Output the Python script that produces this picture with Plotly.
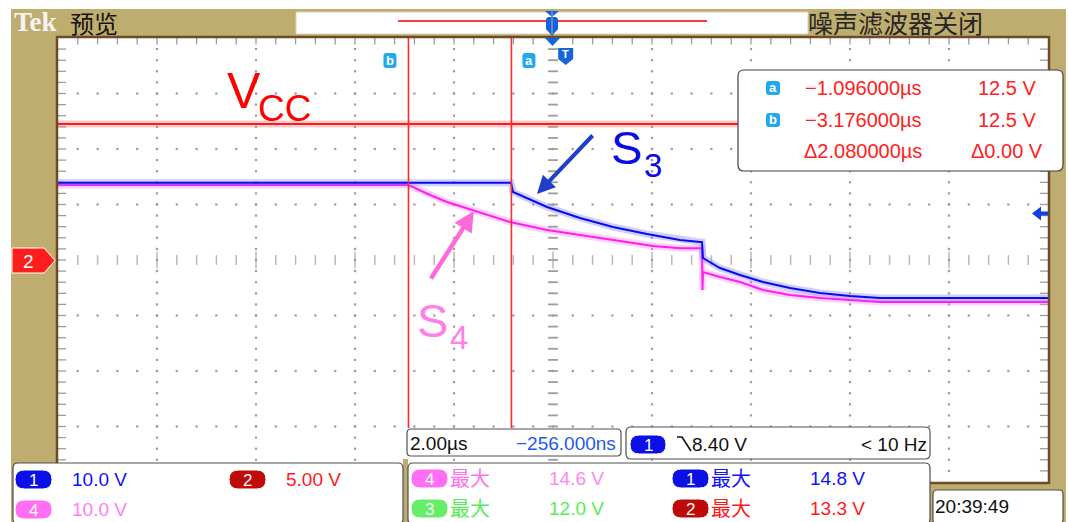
import numpy as np
import plotly.graph_objects as go

W, H = 1068, 522
SANS = "Liberation Sans, Arial, sans-serif"
CJK = "Noto Sans CJK SC, sans-serif"
TAN = "#BEAD6E"

# ---------------- scope settings ----------------
TIME_PER_DIV = 2.0        # us / div
H_CENTER = -0.256         # us at screen centre (horizontal delay)
SCALE_CH1 = 10.0          # V/div  (S3, blue)
SCALE_CH2 = 5.0           # V/div  (Vcc, red)
SCALE_CH4 = 10.0          # V/div  (S4, magenta)
TRIG_LEVEL = 8.40         # V on ch1
CURSOR_A = -1.096         # us
CURSOR_B = -3.176         # us

# ---------------- waveforms (time in us, voltage in V) ----------------
vcc_t = [-10.256, 9.744]
vcc_v = [12.25, 12.25]

s3_t = [-10.256, -1.104, -1.064, -0.377, 0.289, 0.956, 1.643, 2.310, 2.714, 2.754,
        2.774, 3.118, 3.522, 3.986, 4.532, 5.138, 5.744, 6.350, 9.744]
s3_v = [13.9, 13.9, 12.25, 9.55, 7.57, 5.95, 4.68, 3.60, 3.24, 3.24,
        0.36, -1.44, -2.70, -3.96, -5.05, -5.95, -6.49, -6.85, -6.85]

s4_t = [-10.256, -3.185, -3.084, -2.741, -2.397, -1.872, -1.125, -0.377, 0.289, 0.956,
        1.764, 2.310, 2.754, 2.764, 2.774, 3.118, 3.522, 3.986, 4.532, 5.138,
        5.744, 6.350, 9.744]
s4_v = [13.5, 13.5, 13.15, 11.71, 10.45, 9.01, 6.85, 5.41, 4.50, 3.60,
        2.52, 2.1, 2.1, -5.41, -2.16, -3.06, -3.96, -5.41, -6.31, -6.85,
        -7.21, -7.57, -7.57]

# ---------------- readouts ----------------
cursor_rows = [("a", "\u22121.096000\u00b5s", "12.5 V"),
               ("b", "\u22123.176000\u00b5s", "12.5 V")]
delta_t_txt = "\u03942.080000\u00b5s"
delta_v_txt = "\u03940.00 V"
ch_labels = [("1", "10.0 V"), ("2", "5.00 V"), ("4", "10.0 V")]
max_labels = [("4", "14.6 V"), ("1", "14.8 V"), ("3", "12.0 V"), ("2", "13.3 V")]
timebase_txt = "2.00\u00b5s"
delay_txt = "\u2212256.000ns"
trig_txt = "8.40 V"
trig_freq = "< 10 Hz"
clock_txt = "20:39:49"

# ---------------- helpers ----------------
def X(px):
    return px / W

def Y(py):
    return 1 - py / H

def tdiv(d):
    return H_CENTER + d * TIME_PER_DIV

shapes = []
annos = []

def rect(x0, y0, x1, y1, fill=None, line=None, lw=1, layer="above"):
    shapes.append(dict(type="rect", xref="paper", yref="paper",
                       x0=X(x0), x1=X(x1), y0=Y(y1), y1=Y(y0),
                       fillcolor=fill or "rgba(0,0,0,0)",
                       line=dict(color=line or "rgba(0,0,0,0)", width=lw if line else 0),
                       layer=layer))

def poly(points, fill=None, line=None, lw=1, close=True, layer="above"):
    d = "M " + " L ".join(f"{X(x):.5f},{Y(y):.5f}" for x, y in points) + (" Z" if close else "")
    shapes.append(dict(type="path", xref="paper", yref="paper", path=d,
                       fillcolor=fill or "rgba(0,0,0,0)",
                       line=dict(color=line or "rgba(0,0,0,0)", width=lw if line else 0),
                       layer=layer))

def rrect(x0, y0, x1, y1, r, fill=None, line=None, lw=1, layer="above"):
    p = lambda x, y: f"{X(x):.5f},{Y(y):.5f}"
    d = (f"M {p(x0 + r, y0)} L {p(x1 - r, y0)} Q {p(x1, y0)} {p(x1, y0 + r)} "
         f"L {p(x1, y1 - r)} Q {p(x1, y1)} {p(x1 - r, y1)} L {p(x0 + r, y1)} "
         f"Q {p(x0, y1)} {p(x0, y1 - r)} L {p(x0, y0 + r)} Q {p(x0, y0)} {p(x0 + r, y0)} Z")
    shapes.append(dict(type="path", xref="paper", yref="paper", path=d,
                       fillcolor=fill or "rgba(0,0,0,0)",
                       line=dict(color=line or "rgba(0,0,0,0)", width=lw if line else 0),
                       layer=layer))

def text(x, y, s, color, size, family=SANS, xanchor="left", yanchor="middle"):
    annos.append(dict(x=X(x), y=Y(y), xref="paper", yref="paper", text=s,
                      showarrow=False, xanchor=xanchor, yanchor=yanchor,
                      borderpad=0,
                      font=dict(color=color, size=size, family=family)))

def pill(x0, y0, x1, y1, fill, label):
    rrect(x0, y0, x1, y1, (y1 - y0) / 2, fill=fill, line="#FFFFFF", lw=1)
    text((x0 + x1) / 2, (y0 + y1) / 2 + 1, label, "#FFFFFF", 17, xanchor="center")

# ---------------- figure ----------------
fig = go.Figure()

# graticule
GRID = "#9C9C9C"
xs, ys = [], []
for d in range(-4, 5):
    if d == 0:
        continue
    for yy in np.arange(-3.8, 3.81, 0.2):
        xs.append(tdiv(d)); ys.append(yy)
for yd in range(-3, 4):
    if yd == 0:
        continue
    for xd in np.arange(-4.8, 4.81, 0.2):
        xs.append(tdiv(xd)); ys.append(yd)
fig.add_trace(go.Scatter(x=xs, y=ys, mode="markers", hoverinfo="skip",
                         marker=dict(symbol="square", size=2.2, color=GRID, line=dict(width=0))))

# centre cross ticks
cx = [tdiv(xd) for xd in np.arange(-4.8, 4.81, 0.2)]
csz = [12 if abs(xd - round(xd)) < 1e-6 else 7 for xd in np.arange(-4.8, 4.81, 0.2)]
fig.add_trace(go.Scatter(x=cx, y=[0] * len(cx), mode="markers", hoverinfo="skip",
                         marker=dict(symbol="line-ns", size=csz, line=dict(color=GRID, width=1.5))))
cy = list(np.arange(-3.8, 3.81, 0.2))
fig.add_trace(go.Scatter(x=[tdiv(0)] * len(cy), y=cy, mode="markers", hoverinfo="skip",
                         marker=dict(symbol="line-ew", size=7, line=dict(color=GRID, width=1.8))))
# edge ticks
ex = [tdiv(xd) for xd in np.arange(-4.8, 4.81, 0.2)]
fig.add_trace(go.Scatter(x=ex, y=[3.96] * len(ex), mode="markers", hoverinfo="skip",
                         marker=dict(symbol="line-ns", size=6, line=dict(color=GRID, width=1.3))))
ey = list(np.arange(-3.8, 3.81, 0.2))
fig.add_trace(go.Scatter(x=[tdiv(-4.96)] * len(ey), y=ey, mode="markers", hoverinfo="skip",
                         marker=dict(symbol="line-ew", size=6, line=dict(color=GRID, width=1.3))))
fig.add_trace(go.Scatter(x=[tdiv(4.96)] * len(ey), y=ey, mode="markers", hoverinfo="skip",
                         marker=dict(symbol="line-ew", size=6, line=dict(color=GRID, width=1.3))))

# waveforms (converted to screen divisions)
def add_wave(t, v, scale, core, halo):
    yd = [vv / scale for vv in v]
    fig.add_trace(go.Scatter(x=t, y=yd, mode="lines", hoverinfo="skip",
                             line=dict(color=halo, width=7)))
    fig.add_trace(go.Scatter(x=t, y=yd, mode="lines", hoverinfo="skip",
                             line=dict(color=core, width=2)))

add_wave(s4_t, s4_v, SCALE_CH4, "#FF1EF0", "rgba(255,130,245,0.35)")
add_wave(s3_t, s3_v, SCALE_CH1, "#0A0AEE", "rgba(120,120,255,0.35)")
add_wave(vcc_t, vcc_v, SCALE_CH2, "#FF1A1A", "rgba(255,110,110,0.35)")

# ---------------- frame ----------------
rect(0, 0, W, 9, fill="#FFFFFF", layer="below")
rect(0, 0, 11, H, fill="#FFFFFF", layer="below")
rect(1066, 0, W, H, fill="#FFFFFF", layer="below")

# cursors (data x)
for c in (CURSOR_A, CURSOR_B):
    shapes.append(dict(type="line", xref="x", yref="paper", x0=c, x1=c,
                       y0=Y(428), y1=Y(38), line=dict(color="#FF2A2A", width=1.6), layer="above"))

# graticule border
rect(57, 37, 1049, 483, line="#6E4B28", lw=2.5)

# top bar
rect(296, 12, 808, 34, fill="#FFFFFF", line="#D8D2B8", lw=1)
shapes.append(dict(type="line", xref="paper", yref="paper", x0=X(398), x1=X(707),
                   y0=Y(21), y1=Y(21), line=dict(color="#FF3A3A", width=2), layer="above"))
BLUE_ICON = "#1664DC"
poly([(545, 11), (559, 11), (552, 17)], fill=BLUE_ICON)
rrect(546, 17, 558, 31, 3, fill=BLUE_ICON)
poly([(547, 30), (557, 30), (552, 36)], fill=BLUE_ICON)
shapes.append(dict(type="line", xref="paper", yref="paper", x0=X(552), x1=X(552),
                   y0=Y(12), y1=Y(34), line=dict(color="#B0B0B0", width=1), layer="above"))
text(13, 22, "<b>Tek</b>", "#F4F4F4", 27, family="Liberation Serif, serif")
text(69, 22, "预览", "#141414", 24, family=CJK)
text(807, 22, "噪声滤波器关闭", "#262626", 25, family=CJK)

# horizontal position marker + trigger T
poly([(545, 38), (560, 38), (552.5, 46)], fill=BLUE_ICON)
trig_x = 58 + (0 - (H_CENTER - 5 * TIME_PER_DIV)) / (10 * TIME_PER_DIV) * 990
poly([(trig_x - 7.5, 48), (trig_x + 7.5, 48), (trig_x + 7.5, 59), (trig_x, 65), (trig_x - 7.5, 59)], fill=BLUE_ICON)
text(trig_x, 54, "<b>T</b>", "#FFFFFF", 11, xanchor="center")

# cursor icons near the cursors
CYAN = "#22A8EC"
ax_px = 58 + (CURSOR_A - (H_CENTER - 5 * TIME_PER_DIV)) / (10 * TIME_PER_DIV) * 990
bx_px = 58 + (CURSOR_B - (H_CENTER - 5 * TIME_PER_DIV)) / (10 * TIME_PER_DIV) * 990
rrect(ax_px + 11, 53, ax_px + 24, 68, 3, fill=CYAN)
text(ax_px + 17.5, 61, "<b>a</b>", "#FFFFFF", 13, xanchor="center")
rrect(bx_px - 25, 53, bx_px - 12, 68, 3, fill=CYAN)
text(bx_px - 18.5, 61, "<b>b</b>", "#FFFFFF", 13, xanchor="center")

# ch2 ground marker (left)
poly([(12, 248), (44, 248), (55, 260.5), (44, 273), (12, 273)], fill="#FF1E1E", line="#FFFFFF", lw=1)
text(28, 261, "2", "#FFFFFF", 19, xanchor="center")

# trigger level marker (right)
trig_y = 260 - TRIG_LEVEL / SCALE_CH1 * 55.5
poly([(1032, trig_y), (1041, trig_y - 7), (1041, trig_y - 2), (1048, trig_y - 2),
      (1048, trig_y + 2), (1041, trig_y + 2), (1041, trig_y + 7)], fill="#1040E0")

# cursor measurement box
rrect(738, 70, 1063, 171, 6, fill="#FFFFFF", line="#404040", lw=1.2)
RED_T = "#FF2020"
for i, (lab, tt, vv) in enumerate(cursor_rows):
    yy = 88 + i * 32
    rrect(766, yy - 7, 780, yy + 7, 3, fill=CYAN)
    text(773, yy, f"<b>{lab}</b>", "#FFFFFF", 13, xanchor="center")
    text(923, yy, tt, RED_T, 20, xanchor="right")
    text(1037, yy, vv, RED_T, 20, xanchor="right")
text(923, 151, delta_t_txt, RED_T, 20, xanchor="right")
text(1044, 151, delta_v_txt, RED_T, 20, xanchor="right")

# signal labels
text(226, 91, "V", "#FF0000", 50, xanchor="left")
text(257, 109, "CC", "#FF0000", 37, xanchor="left")
text(610, 148, "S", "#0A0AE6", 47, xanchor="left")
text(643, 165, "3", "#0A0AE6", 33, xanchor="left")
text(416, 320, "S", "#FF7FE6", 47, xanchor="left")
text(449, 337, "4", "#FF7FE6", 33, xanchor="left")

# arrows
annos.append(dict(x=X(537), y=Y(194), xref="paper", yref="paper", ax=57, ay=-60,
                  showarrow=True, arrowhead=2, arrowsize=0.9, arrowwidth=4,
                  arrowcolor="#1E3FC8", text=""))
annos.append(dict(x=X(474), y=Y(211), xref="paper", yref="paper", ax=-44, ay=69,
                  showarrow=True, arrowhead=2, arrowsize=0.9, arrowwidth=4.5,
                  arrowcolor="#FF6AD8", text=""))

# ---------------- bottom panels ----------------
PANEL_LINE = "#505050"
BLUE_P, RED_P, MAG_P, GRN_P = "#0A10E6", "#C00A0A", "#FF6EF5", "#66EE66"
rect(403, 459, 408, 522, fill=TAN)

# timebase panel
rrect(407, 429, 621, 456, 4, fill="#FFFFFF", line=PANEL_LINE, lw=1.2)
text(409, 443, timebase_txt, "#101010", 19)
text(617, 443, delay_txt, "#1E5AF0", 19, xanchor="right")

# trigger panel
rrect(626, 427, 930, 459, 5, fill="#FFFFFF", line=PANEL_LINE, lw=1.2)
pill(630, 435, 666, 454, BLUE_P, "1")
poly([(677, 437), (682, 437), (691, 451)], line="#101010", lw=1.6, close=False)
text(691, 444, trig_txt, "#101010", 19)
text(928, 444, trig_freq, "#101010", 19, xanchor="right")

# channel panel
rrect(13, 463, 403, 524, 5, fill="#FFFFFF", line=PANEL_LINE, lw=1.2)
ch_pos = {"1": (15, 470, BLUE_P, "#1010FF"), "2": (229, 470, RED_P, "#FF1A1A"),
          "4": (15, 500, MAG_P, "#FF80F5")}
for lab, val in ch_labels:
    x0, y0, pc, tc = ch_pos[lab]
    pill(x0, y0, x0 + 37, y0 + 19, pc, lab)
    text(x0 + 56, y0 + 9.5, val, tc, 19)

# max measurement panel
rrect(408, 463, 930, 524, 5, fill="#FFFFFF", line=PANEL_LINE, lw=1.2)
mx_pos = {"4": (411, 469, MAG_P, "#FF70F0", "#FF88F0"),
          "1": (672, 469, BLUE_P, "#1010FF", "#1010FF"),
          "3": (411, 499, GRN_P, "#55EE55", "#55EE55"),
          "2": (672, 499, RED_P, "#FF1A1A", "#FF1A1A")}
for lab, val in max_labels:
    x0, y0, pc, tc, vc = mx_pos[lab]
    pill(x0, y0, x0 + 37, y0 + 19, pc, lab)
    text(x0 + 38, y0 + 8, "最大", tc, 20, family=CJK)
    text(x0 + 137, y0 + 9.5, val, vc, 19)

# clock panel
rrect(933, 490, 1063, 524, 4, fill="#FFFFFF", line=PANEL_LINE, lw=1.2)
text(934, 506, clock_txt, "#101010", 19)

fig.update_layout(
    width=W, height=H, autosize=False,
    margin=dict(l=0, r=0, t=0, b=0),
    paper_bgcolor=TAN, plot_bgcolor="#FFFFFF",
    showlegend=False,
    shapes=shapes, annotations=annos,
    xaxis=dict(domain=[58 / W, 1048 / W],
               range=[H_CENTER - 5 * TIME_PER_DIV, H_CENTER + 5 * TIME_PER_DIV],
               visible=False, showgrid=False, zeroline=False, fixedrange=True),
    yaxis=dict(domain=[(H - 482) / H, (H - 38) / H], range=[-4, 4],
               visible=False, showgrid=False, zeroline=False, fixedrange=True),
)

fig.write_html("out.html", config={"displayModeBar": False},
               post_script="document.body.style.margin='0px';document.body.style.padding='0px';")
